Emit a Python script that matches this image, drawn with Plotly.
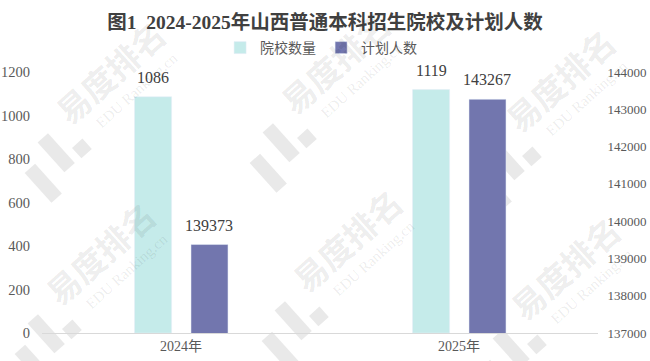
import math
import plotly.graph_objects as go

# ---- data ----
years = ["2024年", "2025年"]
schools = [1086, 1119]
plan = [139373, 143267]
series_names = ["院校数量", "计划人数"]
left_ticks = [0, 200, 400, 600, 800, 1000, 1200]
right_ticks = [137000, 138000, 139000, 140000, 141000, 142000, 143000, 144000]
title_text = "图1  2024-2025年山西普通本科招生院校及计划人数"
wm_text = "易度排名"
wm_sub = "EDU Ranking.cn"

# ---- layout constants ----
W, H = 650, 361
L, R, T, B = 42, 52, 72, 28
PW, PH = W - L - R, H - T - B
CAT_PX = PW / len(years)
BAR_W = 0.133
OFF1, OFF2 = -0.167, 0.036
C1, C2 = "#C5EBEA", "#7276AE"
SERIF = "Liberation Serif, Times New Roman, serif"
CJK = "Liberation Serif, Noto Sans CJK SC, serif"

fig = go.Figure()
fig.add_trace(go.Bar(x=years, y=schools, name=series_names[0], marker_color=C1,
                     width=BAR_W, offset=OFF1, yaxis="y"))
fig.add_trace(go.Bar(x=years, y=plan, name=series_names[1], marker_color=C2,
                     width=BAR_W, offset=OFF2, yaxis="y2"))

annotations = []
for i, yr in enumerate(years):
    annotations.append(dict(x=yr, y=schools[i], xref="x", yref="y", text=str(schools[i]),
                            showarrow=False, yanchor="bottom",
                            xshift=(OFF1 + BAR_W / 2) * CAT_PX, yshift=9,
                            font=dict(family=SERIF, size=16, color="#404040")))
    annotations.append(dict(x=yr, y=plan[i], xref="x", yref="y2", text=str(plan[i]),
                            showarrow=False, yanchor="bottom",
                            xshift=(OFF2 + BAR_W / 2) * CAT_PX, yshift=9,
                            font=dict(family=SERIF, size=16, color="#404040")))

# ---- watermark (decoration) ----
ang = math.radians(42)
ux, uy = math.cos(ang), -math.sin(ang)
vx, vy = math.sin(ang), math.cos(ang)
tiles = [(110, 72), (335, 62), (560, 80), (100, 253), (347, 240), (565, 268)]


def px2paper(px, py):
    return (px - L) / PW, (H - B - py) / PH


def rot_pt(cx, cy, U, V):
    return cx + U * ux + V * vx, cy + U * uy + V * vy


shapes = []
logo_rects = [(-101, -87, 4, 44), (-131, -117, 18, 58), (-79, -65, 31, 45)]
for (cx, cy) in tiles:
    tx, ty = px2paper(cx, cy)
    annotations.append(dict(x=tx, y=ty, xref="paper", yref="paper", text="<b>" + wm_text + "</b>",
                            textangle=-42, showarrow=False, xanchor="center", yanchor="middle",
                            font=dict(family="Noto Sans CJK SC", size=33, color="rgba(0,0,0,0.085)")))
    ex, ey = rot_pt(cx, cy, 8, 32)
    ex, ey = px2paper(ex, ey)
    annotations.append(dict(x=ex, y=ey, xref="paper", yref="paper", text=wm_sub,
                            textangle=-42, showarrow=False, xanchor="center", yanchor="middle",
                            font=dict(family=SERIF, size=15, color="rgba(0,0,0,0.085)")))
    for (u0, u1, v0, v1) in logo_rects:
        pts = [rot_pt(cx, cy, u, v) for (u, v) in [(u0, v0), (u1, v0), (u1, v1), (u0, v1)]]
        pp = [px2paper(x, y) for (x, y) in pts]
        path = "M " + " L ".join(f"{a:.4f},{b:.4f}" for a, b in pp) + " Z"
        shapes.append(dict(type="path", path=path, xref="paper", yref="paper",
                           fillcolor="#E9E9E9", line=dict(width=0), layer="below"))

fig.update_layout(
    width=W, height=H,
    margin=dict(l=L, r=R, t=T, b=B, pad=0, autoexpand=False),
    paper_bgcolor="white", plot_bgcolor="rgba(0,0,0,0)",
    barmode="overlay",
    title=dict(text="<b>" + title_text + "</b>", x=0.5, xanchor="center", xref="container",
               y=1 - 22 / H, yanchor="middle", yref="container",
               font=dict(family=CJK, size=19.5, color="#404040")),
    legend=dict(orientation="h", xref="container", yref="container", x=0.494, xanchor="center",
                y=1 - 48 / H, yanchor="middle", font=dict(family="Noto Sans CJK SC", size=14, color="#595959"),
                itemwidth=30, bgcolor="rgba(0,0,0,0)"),
    xaxis=dict(type="category", showgrid=False, showline=True, linecolor="#D9D9D9", linewidth=1,
               ticks="", tickfont=dict(family=CJK, size=14, color="#595959"), range=[-0.5, 1.5]),
    yaxis=dict(range=[0, 1200], tickvals=left_ticks, showgrid=False, zeroline=False, showline=False,
               ticks="outside", ticklen=8, tickcolor="rgba(0,0,0,0)",
               tickfont=dict(family=SERIF, size=14.5, color="#595959")),
    yaxis2=dict(range=[137000, 144000], tickvals=right_ticks, ticktext=[str(v) for v in right_ticks],
                overlaying="y", side="right",
                showgrid=False, zeroline=False, showline=False,
                ticks="outside", ticklen=6, tickcolor="rgba(0,0,0,0)",
                tickfont=dict(family=SERIF, size=13, color="#595959")),
    annotations=annotations,
    shapes=shapes,
    showlegend=True,
)

fig.write_html("out.html")
